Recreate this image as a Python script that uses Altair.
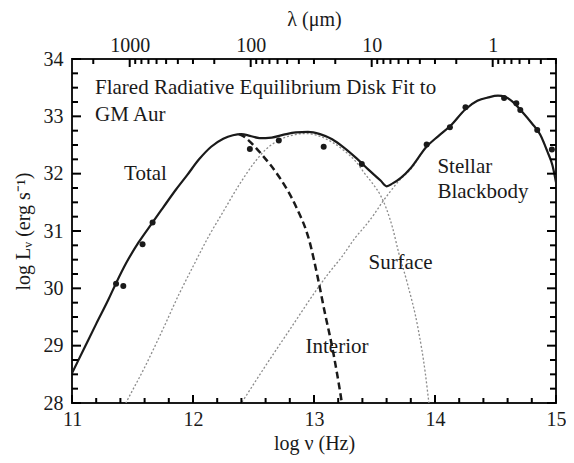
import numpy as np
import pandas as pd
import altair as alt

# ---------------- data ----------------
total_nu = [11.00, 11.10, 11.20, 11.30, 11.364, 11.45, 11.55, 11.666, 11.75, 11.858,
            11.95, 12.05, 12.15, 12.25, 12.33, 12.40, 12.47, 12.55, 12.65, 12.75,
            12.85, 12.95, 13.05, 13.15, 13.25, 13.35, 13.45, 13.55, 13.60, 13.65,
            13.72, 13.80, 13.93, 14.03, 14.13, 14.25, 14.35, 14.44, 14.52, 14.58,
            14.65, 14.72, 14.80, 14.87, 14.93, 14.97, 15.00]
total_L = [28.52, 28.95, 29.38, 29.80, 30.09, 30.45, 30.80, 31.15, 31.40, 31.72,
           31.97, 32.25, 32.47, 32.61, 32.67, 32.69, 32.66, 32.62, 32.63, 32.68,
           32.72, 32.73, 32.69, 32.60, 32.45, 32.27, 32.07, 31.88, 31.78, 31.83,
           31.93, 32.10, 32.47, 32.66, 32.84, 33.12, 33.27, 33.33, 33.36, 33.34,
           33.24, 33.08, 32.88, 32.68, 32.38, 32.15, 31.85]

interior_nu = [12.38, 12.42, 12.47, 12.57, 12.71, 12.85, 12.96, 13.03, 13.09, 13.15,
               13.19, 13.23, 13.25]
interior_L = [32.69, 32.65, 32.56, 32.33, 31.95, 31.43, 30.84, 30.20, 29.57, 28.98,
              28.52, 28.00, 27.70]

surface_nu = [11.40, 11.446, 11.60, 11.75, 11.885, 12.00, 12.133, 12.242, 12.38, 12.517,
              12.60, 12.682, 12.80, 12.93, 13.05, 13.15, 13.25, 13.35, 13.42, 13.48,
              13.55, 13.60, 13.65, 13.70, 13.77, 13.86, 13.92, 13.95, 13.97]
surface_L = [27.80, 28.00, 28.62, 29.28, 29.90, 30.38, 30.92, 31.31, 31.80, 32.22,
             32.42, 32.55, 32.66, 32.70, 32.65, 32.55, 32.40, 32.20, 32.00, 31.84,
             31.62, 31.38, 31.05, 30.62, 30.10, 29.30, 28.52, 28.00, 27.70]

stellar_nu = [12.35, 12.40, 12.60, 12.80, 13.04, 13.12, 13.23, 13.34, 13.42, 13.50,
              13.56, 13.62, 13.70, 13.80, 13.93, 14.03, 14.13, 14.25, 14.35, 14.44,
              14.52, 14.58, 14.65, 14.72, 14.80, 14.87, 14.93, 14.97, 15.00]
stellar_L = [27.84, 28.00, 28.65, 29.28, 30.03, 30.26, 30.55, 30.88, 31.08, 31.30,
             31.49, 31.66, 31.87, 32.08, 32.47, 32.66, 32.84, 33.12, 33.27, 33.33,
             33.36, 33.34, 33.24, 33.08, 32.88, 32.68, 32.38, 32.15, 31.85]

obs_nu = [11.364, 11.424, 11.583, 11.666, 12.470, 12.709, 13.080, 13.395, 13.931,
          14.123, 14.252, 14.571, 14.672, 14.705, 14.845, 14.966]
obs_L = [30.08, 30.04, 30.77, 31.15, 32.43, 32.58, 32.47, 32.17, 32.51,
         32.81, 33.16, 33.32, 33.23, 33.11, 32.76, 32.42]

label_text = ["Flared Radiative Equilibrium Disk Fit to", "GM Aur", "Total", "Interior",
              "Surface", "Stellar", "Blackbody"]
label_nu = [11.19, 11.19, 11.43, 12.93, 13.45, 14.02, 14.02]
label_L = [33.50, 33.03, 32.00, 28.97, 30.44, 32.11, 31.68]

nu_ticks = [11, 12, 13, 14, 15]
L_ticks = [28, 29, 30, 31, 32, 33, 34]
lam_ticks = [1000, 100, 10, 1]          # micron, top axis
C_MICRON = 2.998e14                     # speed of light in micron / s

# ---------------- layout ----------------
WIDTH, HEIGHT = 484, 344
X_DOM, Y_DOM = [11, 15], [28, 34]
XPX = WIDTH / (X_DOM[1] - X_DOM[0])     # pixels per x unit
YPX = HEIGHT / (Y_DOM[1] - Y_DOM[0])    # pixels per y unit

# ---------------- derived tick positions ----------------
nu_minor = [round(11 + 0.2 * i, 2) for i in range(21) if i % 5 != 0]
L_minor = [28 + 0.25 * i for i in range(25) if i % 4 != 0]
lam_major_pos = [float(np.log10(C_MICRON / lam)) for lam in lam_ticks]
lam_minor_pos = []
for n in range(-1, 4):
    for k in range(2, 10):
        p = float(np.log10(C_MICRON / (k * 10.0 ** n)))
        if 11.0 < p < 15.0:
            lam_minor_pos.append(p)

# inward frame ticks as short two-point segments (one id per tick)
seg_id, seg_nu, seg_L = [], [], []


def add_x_ticks(values, length, edge, direction):
    for v in values:
        tid = len(seg_id)
        seg_id.extend([tid, tid])
        seg_nu.extend([v, v])
        seg_L.extend([edge, edge + direction * length / YPX])


def add_y_ticks(values, length, edge, direction):
    for v in values:
        tid = len(seg_id)
        seg_id.extend([tid, tid])
        seg_nu.extend([edge, edge + direction * length / XPX])
        seg_L.extend([v, v])


add_x_ticks(nu_ticks, 8, 28, +1)
add_x_ticks(nu_minor, 5, 28, +1)
add_x_ticks(lam_major_pos, 8, 34, -1)
add_x_ticks(lam_minor_pos, 5, 34, -1)
add_y_ticks(L_ticks, 9, 11, +1)
add_y_ticks(L_minor, 6, 11, +1)
add_y_ticks(L_ticks, 9, 15, -1)
add_y_ticks(L_minor, 6, 15, -1)

df_total = pd.DataFrame({"nu": total_nu, "L": total_L})
df_int = pd.DataFrame({"nu": interior_nu, "L": interior_L})
df_surf = pd.DataFrame({"nu": surface_nu, "L": surface_L})
df_star = pd.DataFrame({"nu": stellar_nu, "L": stellar_L})
df_obs = pd.DataFrame({"nu": obs_nu, "L": obs_L})
df_lab = pd.DataFrame({"nu": label_nu, "L": label_L, "text": label_text})
df_ticks = pd.DataFrame({"tick": seg_id, "nu": seg_nu, "L": seg_L})

FONT = "Liberation Serif"
INK = "#1a1a1a"
xs = alt.Scale(domain=X_DOM, nice=False, zero=False)
ys = alt.Scale(domain=Y_DOM, nice=False, zero=False)


def label_axis(orient, values, title, pad, tpad, expr=None):
    kw = dict(orient=orient, values=values, ticks=False, domain=False, grid=False,
              labelFont=FONT, labelFontSize=20, labelColor=INK, labelPadding=pad,
              labelFlush=False, labelOverlap=False, title=title, titleFont=FONT,
              titleFontSize=20, titleFontWeight="normal", titleColor=INK,
              titlePadding=tpad)
    if expr:
        kw["labelExpr"] = expr
    return alt.Axis(**kw)


ax_bottom_lab = label_axis("bottom", nu_ticks, "log ν (Hz)", 6, 4)
ax_left_lab = label_axis("left", L_ticks, "log Lᵥ (erg s⁻¹)", 9, 10)
ax_top_lab = label_axis("top", lam_major_pos, "λ (μm)", 4, 6,
                        expr="format(round(%g / pow(10, datum.value)), 'd')" % C_MICRON)

surface = alt.Chart(df_surf).mark_line(
    color="#8c8c8c", strokeWidth=1.3, strokeDash=[2, 2], interpolate="monotone", clip=True
).encode(
    x=alt.X("nu:Q", scale=xs, axis=None),
    y=alt.Y("L:Q", scale=ys, axis=None),
)

stellar = alt.Chart(df_star).mark_line(
    color="#8c8c8c", strokeWidth=1.3, strokeDash=[2, 2], interpolate="monotone", clip=True
).encode(
    x=alt.X("nu:Q", scale=xs, axis=None),
    y=alt.Y("L:Q", scale=ys, axis=None),
)

interior = alt.Chart(df_int).mark_line(
    color=INK, strokeWidth=2.5, strokeDash=[7, 4], interpolate="monotone", clip=True
).encode(
    x=alt.X("nu:Q", scale=xs, axis=None),
    y=alt.Y("L:Q", scale=ys, axis=None),
)

total = alt.Chart(df_total).mark_line(
    color=INK, strokeWidth=2.2, interpolate="monotone", clip=True
).encode(
    x=alt.X("nu:Q", scale=xs, axis=ax_bottom_lab),
    y=alt.Y("L:Q", scale=ys, axis=ax_left_lab),
)

ticks = alt.Chart(df_ticks).mark_line(color="#000000", strokeWidth=2).encode(
    x=alt.X("nu:Q", scale=xs, axis=None),
    y=alt.Y("L:Q", scale=ys, axis=None),
    detail="tick:N",
)

points = alt.Chart(df_obs).mark_circle(size=36, color=INK, opacity=1).encode(
    x=alt.X("nu:Q", scale=xs, axis=None),
    y=alt.Y("L:Q", scale=ys, axis=None),
)

labels = alt.Chart(df_lab).mark_text(
    align="left", baseline="middle", font=FONT, fontSize=21, color=INK
).encode(
    x=alt.X("nu:Q", scale=xs, axis=ax_top_lab),
    y=alt.Y("L:Q", scale=ys, axis=None),
    text="text:N",
)

chart = alt.layer(surface, stellar, interior, total, points, labels, ticks).resolve_scale(
    x="shared", y="shared"
).resolve_axis(
    x="independent", y="independent"
).properties(
    width=WIDTH, height=HEIGHT,
    autosize=alt.AutoSizeParams(type="none"),
    padding={"left": 64, "top": 51, "right": 10, "bottom": 52},
).configure_view(stroke=INK, strokeWidth=2)

chart.save("out.html", embed_options={"renderer": "svg", "actions": False})
